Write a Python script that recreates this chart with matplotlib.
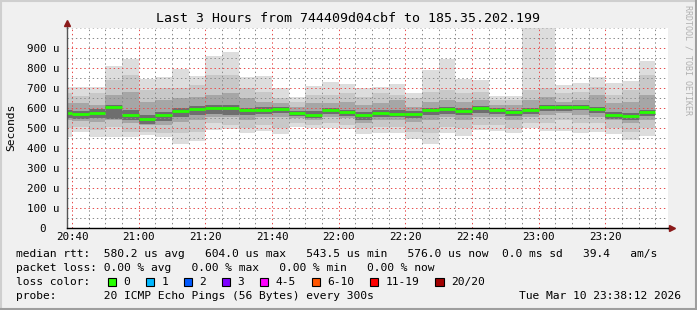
import numpy as np
import matplotlib.pyplot as plt
from matplotlib.patches import Rectangle
from matplotlib.lines import Line2D

# SmokePing: 20 pings per 5 minute step, rtt in microseconds
# steps start at 20:35 (minutes after 20:00), last one 23:30
bin_start = 35
bin_len = 5

rtt_max = [702, 702, 702, 808, 843, 743, 752, 793, 760, 858, 877, 752,
           758, 697, 655, 708, 730, 718, 700, 702, 718, 672, 788, 843,
           743, 738, 660, 660, 1020, 1020, 713, 725, 755, 725, 735, 835]
rtt_hi1 = [672, 660, 672, 738, 763, 688, 697, 697, 713, 763, 763, 697,
           680, 647, 630, 663, 663, 672, 655, 672, 663, 647, 680, 688,
           672, 680, 638, 638, 688, 697, 672, 680, 705, 663, 688, 763]
rtt_hi2 = [622, 625, 613, 663, 680, 630, 638, 647, 655, 663, 672, 647,
           630, 622, 605, 622, 622, 630, 613, 622, 638, 605, 630, 638,
           630, 638, 613, 613, 638, 655, 630, 638, 663, 622, 630, 663]
rtt_hi3 = [590, 585, 592, 615, 590, 565, 580, 600, 610, 615, 612, 600,
           605, 605, 585, 585, 600, 590, 580, 590, 590, 585, 600, 605,
           600, 610, 600, 590, 600, 615, 612, 615, 605, 580, 575, 590]
rtt_med = [573, 567, 575, 603, 563, 543.5, 562, 585, 595, 598, 598, 590,
           590, 593, 573, 563, 588, 576, 565, 574, 569, 569, 586, 595,
           585, 598, 590, 576, 590, 604, 602, 603, 593, 565, 560, 576]
rtt_lo3 = [550, 545, 550, 545, 540, 520, 535, 555, 565, 570, 565, 565,
           570, 575, 560, 550, 570, 560, 540, 555, 555, 550, 565, 570,
           565, 575, 570, 560, 570, 585, 585, 590, 575, 545, 540, 560]
rtt_lo2 = [538, 535, 530, 538, 522, 513, 513, 530, 538, 555, 555, 538,
           555, 555, 547, 538, 555, 547, 522, 538, 538, 530, 538, 555,
           538, 555, 555, 538, 555, 563, 572, 563, 555, 538, 522, 538]
rtt_lo1 = [497, 505, 490, 505, 480, 480, 472, 472, 480, 522, 513, 497,
           513, 497, 522, 513, 522, 513, 497, 505, 505, 480, 472, 505,
           497, 513, 513, 497, 522, 522, 538, 522, 522, 497, 480, 497]
rtt_min = [455, 480, 455, 455, 452, 463, 452, 418, 433, 490, 492, 472,
           485, 467, 505, 497, 500, 495, 467, 475, 472, 442, 418, 475,
           460, 488, 483, 472, 500, 485, 483, 472, 480, 467, 438, 460]

xtick_pos = [40, 60, 80, 100, 120, 140, 160, 180, 200]
xtick_labels = ["20:40", "21:00", "21:20", "21:40", "22:00",
                "22:20", "22:40", "23:00", "23:20"]
ytick_pos = [0, 100, 200, 300, 400, 500, 600, 700, 800, 900]
ytick_labels = ["0  ", "100 u", "200 u", "300 u", "400 u",
                "500 u", "600 u", "700 u", "800 u", "900 u"]

loss_labels = ["0", "1", "2", "3", "4-5", "6-10", "11-19", "20/20"]
loss_colors = ["#26ff00", "#00b8ff", "#0059ff", "#7e00ff",
               "#ff00ff", "#ff5500", "#ff0000", "#a10000"]

title = "Last 3 Hours from 744409d04cbf to 185.35.202.199"
line_rtt = ("median rtt:  580.2 us avg   604.0 us max   543.5 us min   "
            "576.0 us now  0.0 ms sd   39.4   am/s")
line_loss = "packet loss: 0.00 % avg   0.00 % max   0.00 % min   0.00 % now"
line_probe = "probe:       20 ICMP Echo Pings (56 Bytes) every 300s"
stamp = "Tue Mar 10 23:38:12 2026"

W, H = 697, 310
MONO = "DejaVu Sans Mono"
plt.rcParams["font.family"] = MONO


def fx(px):
    return px / W


def fy(py):
    return 1 - py / H


fig = plt.figure(figsize=(W / 100, H / 100), dpi=100, facecolor="#f0f0f0")
ax = fig.add_axes([fx(67), fy(227.7), fx(667.7) - fx(67), (227.7 - 27.7) / H])
ax.set_facecolor("white")

edges = bin_start + bin_len * np.arange(len(rtt_med) + 1)

# smoke, light outside to dark inside
layers = [(rtt_min, rtt_max, "#dddddd"),
          (rtt_lo1, rtt_hi1, "#c8c8c8"),
          (rtt_lo2, rtt_hi2, "#a6a6a6"),
          (rtt_lo3, rtt_hi3, "#6e6e6e")]
for lo, hi, col in layers:
    ax.stairs(hi, edges, baseline=lo, fill=True, color=col, lw=0, zorder=1)

ax.hlines(rtt_med, edges[:-1], edges[1:], colors="#26ff00", lw=2.0, zorder=3)

ax.set_xlim(38.5, 218.7)
ax.set_ylim(0, 1000)

ax.set_xticks(xtick_pos)
ax.set_xticklabels(xtick_labels)
ax.set_xticks(np.arange(40, 219, 5), minor=True)
ax.set_yticks(ytick_pos)
ax.set_yticklabels(ytick_labels)
ax.set_yticks(np.arange(50, 1001, 100), minor=True)
ax.tick_params(which="both", length=0)
ax.tick_params(axis="y", pad=5.4, labelsize=7.8)
ax.tick_params(axis="x", pad=3.2, labelsize=7.8)

dots = (0, (1.4, 2.8))
ax.set_axisbelow("line")
ax.grid(which="major", color=(0.9, 0.3, 0.3, 0.5), lw=0.72, linestyle=dots)
ax.grid(which="minor", color=(0.55, 0.55, 0.55, 0.5), lw=0.72, linestyle=dots)
# the 1000 line at the top
ax.axhline(1000, color=(0.55, 0.55, 0.55, 0.5), lw=0.72, linestyle=dots)

for s in ["top", "right"]:
    ax.spines[s].set_visible(False)
ax.spines["left"].set_color("#555555")
ax.spines["bottom"].set_color("black")
ax.spines["left"].set_linewidth(1.0)
ax.spines["bottom"].set_linewidth(1.0)
ax.spines["left"].set_zorder(4)
ax.spines["bottom"].set_zorder(4)

# axis arrows
ax.plot([0, 0], [1.0, 1.02], color="#555555", lw=1.0, transform=ax.transAxes, clip_on=False)
ax.plot([1.0, 1.006], [0, 0], color="black", lw=1.0, transform=ax.transAxes, clip_on=False)
ax.plot(0, 1.025, marker="^", ms=5, color="#8b1a1a", mec="#8b1a1a",
        transform=ax.transAxes, clip_on=False)
ax.plot(1.007, 0, marker=">", ms=5, color="#8b1a1a", mec="#8b1a1a",
        transform=ax.transAxes, clip_on=False)

fig.text(0.5, fy(19), title, ha="center", va="center", fontsize=9.5)
fig.text(fx(11), fy(127.5), "Seconds", rotation=90, ha="center", va="center", fontsize=8.1)
fig.text(fx(688), fy(5), "RRDTOOL / TOBI OETIKER", rotation=270, ha="center", va="top",
         fontsize=6, color="#b0b0b0")

fs = 8.13
cw = 0.602 * fs * 100 / 72  # char width in px
x0 = 16
fig.text(fx(x0), fy(254.3), line_rtt, ha="left", va="center", fontsize=fs)
fig.text(fx(x0), fy(268.3), line_loss, ha="left", va="center", fontsize=fs)
fig.text(fx(x0), fy(282.3), "loss color:", ha="left", va="center", fontsize=fs)
fig.text(fx(x0), fy(296), line_probe, ha="left", va="center", fontsize=fs)
fig.text(fx(681), fy(296), stamp, ha="right", va="center", fontsize=fs)

col = 13.5
for lab, c in zip(loss_labels, loss_colors):
    bx = x0 + col * cw
    fig.add_artist(Rectangle((fx(bx), fy(286.3)), 8.3 / W, 8.3 / H,
                             facecolor=c, edgecolor="black", lw=0.8,
                             transform=fig.transFigure))
    fig.text(fx(bx + 2.3 * cw), fy(282.3), lab, ha="left", va="center", fontsize=fs)
    col += 2.3 + len(lab) + 2.3

# 3d frame around the image
fig.add_artist(Line2D([0, 1], [fy(0.5), fy(0.5)], color="#cfcfcf", lw=1.5, transform=fig.transFigure))
fig.add_artist(Line2D([fx(0.5), fx(0.5)], [0, 1], color="#cfcfcf", lw=1.5, transform=fig.transFigure))
fig.add_artist(Line2D([0, 1], [fy(309), fy(309)], color="#9e9e9e", lw=1.5, transform=fig.transFigure))
fig.add_artist(Line2D([fx(696), fx(696)], [0, 1], color="#9e9e9e", lw=1.5, transform=fig.transFigure))

fig.savefig("out.png", dpi=100, facecolor=fig.get_facecolor())
